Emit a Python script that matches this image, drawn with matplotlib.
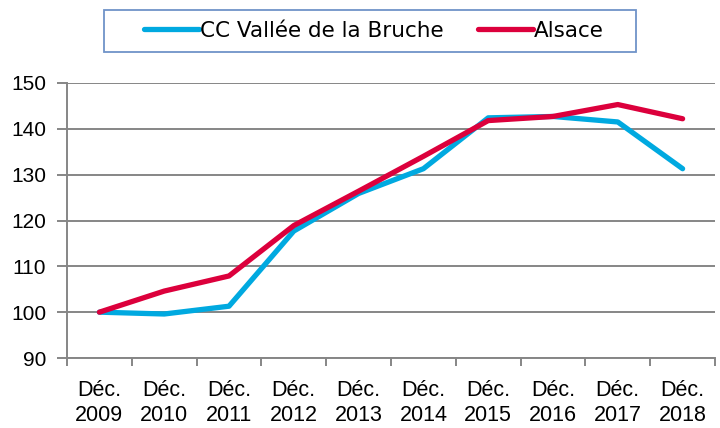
import matplotlib
matplotlib.use("Agg")
import matplotlib.pyplot as plt
from matplotlib.patches import Rectangle
from matplotlib.ticker import FixedLocator

# ── Data ─────────────────────────────────────────────────────────────────────
years = ["2009", "2010", "2011", "2012", "2013", "2014", "2015", "2016", "2017", "2018"]
bruche = [100.0, 99.6, 101.3, 117.7, 125.9, 131.3, 142.4, 142.7, 141.5, 131.3]
alsace = [100.0, 104.6, 107.9, 118.9, 126.4, 134.0, 141.8, 142.7, 145.3, 142.2]
y_ticks = [90, 100, 110, 120, 130, 140, 150]

BLUE = "#00A9E0"
RED = "#DC003C"
GRID = "#868686"

plt.rcParams["font.family"] = ["Liberation Sans", "DejaVu Sans"]

W, H = 720, 428
fig = plt.figure(figsize=(W / 100, H / 100), dpi=100)
ax = fig.add_axes([67 / W, 1 - 358 / H, (715 - 67) / W, (358 - 83) / H])

x = list(range(len(years)))
ax.plot(x, bruche, color=BLUE, lw=3.8, solid_capstyle="round",
        solid_joinstyle="round", label="CC Vallée de la Bruche", zorder=3)
ax.plot(x, alsace, color=RED, lw=3.8, solid_capstyle="round",
        solid_joinstyle="round", label="Alsace", zorder=4)

ax.set_xlim(-0.5, len(years) - 0.5)
ax.set_ylim(90, 150)
ax.set_yticks(y_ticks)
ax.yaxis.grid(True, color=GRID, lw=1.4)
ax.set_axisbelow(True)

ax.set_xticks(x)
ax.set_xticklabels([f"Déc.\n{y}" for y in years], fontsize=15.5, linespacing=1.25)
ax.xaxis.set_minor_locator(FixedLocator([i - 0.5 for i in range(len(years) + 1)]))
ax.tick_params(axis="x", which="major", length=0, pad=16)
ax.tick_params(axis="x", which="minor", length=6, width=1.4, color=GRID)
ax.tick_params(axis="y", length=7, width=1.4, color=GRID, labelsize=15, pad=8)

for side in ["top", "right"]:
    ax.spines[side].set_visible(False)
for side in ["left", "bottom"]:
    ax.spines[side].set_color(GRID)
    ax.spines[side].set_linewidth(1.4)

# legend without its own frame, box drawn separately to match the wide padding
leg = fig.legend(loc="center", bbox_to_anchor=(374 / W, 1 - 31 / H), ncol=2,
                 frameon=False, prop={"family": "DejaVu Sans", "size": 15.5},
                 handlelength=2.55, handletextpad=0.05, columnspacing=1.6)
fig.patches.append(Rectangle((104 / W, 1 - 52 / H), (636 - 104) / W, 42 / H,
                             transform=fig.transFigure, fill=False,
                             edgecolor="#6F93C8", lw=1.3))

fig.savefig("out.png", dpi=100)
